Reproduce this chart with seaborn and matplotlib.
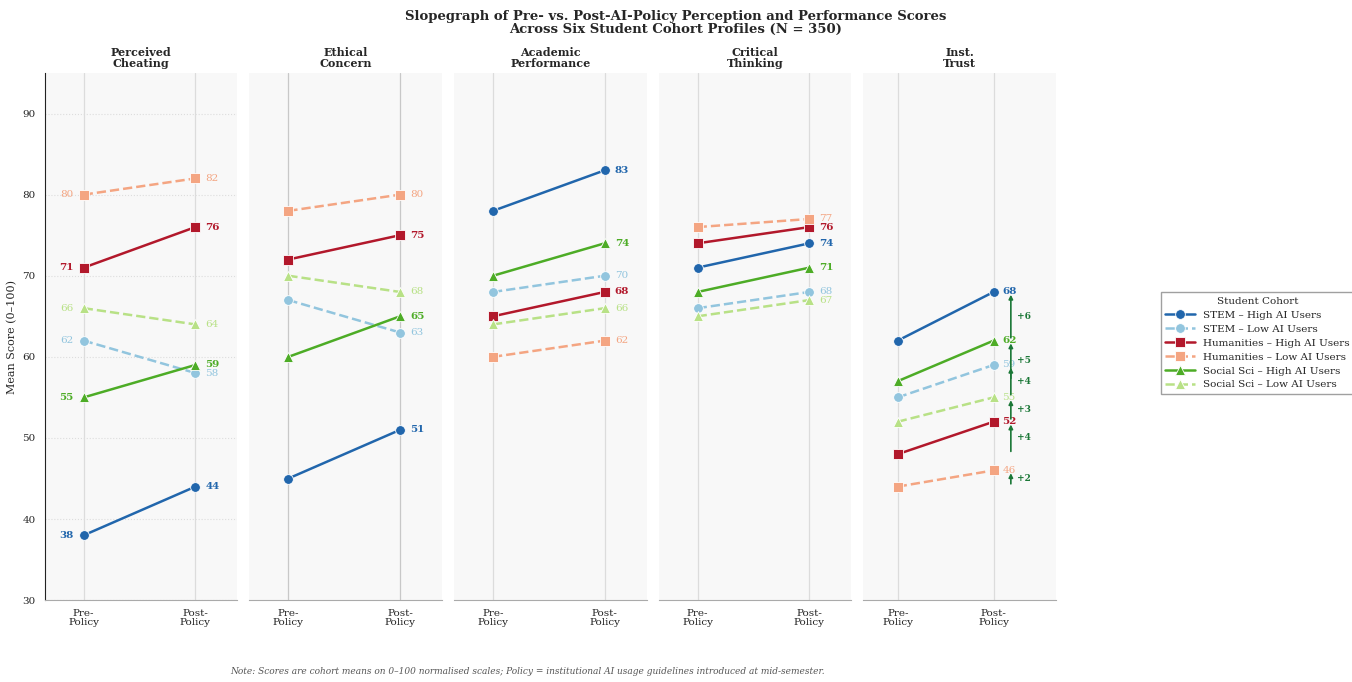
import numpy as np
import pandas as pd
import matplotlib
matplotlib.use("Agg")
import matplotlib.pyplot as plt
import seaborn as sns

# data
metrics = ["Perceived\nCheating", "Ethical\nConcern", "Academic\nPerformance",
           "Critical\nThinking", "Inst.\nTrust"]
cohorts = ["STEM – High AI Users", "STEM – Low AI Users",
           "Humanities – High AI Users", "Humanities – Low AI Users",
           "Social Sci – High AI Users", "Social Sci – Low AI Users"]
phases = ["Pre-\nPolicy", "Post-\nPolicy"]

pre_scores = {
    "STEM – High AI Users":       [38, 45, 78, 71, 62],
    "STEM – Low AI Users":        [62, 67, 68, 66, 55],
    "Humanities – High AI Users": [71, 72, 65, 74, 48],
    "Humanities – Low AI Users":  [80, 78, 60, 76, 44],
    "Social Sci – High AI Users": [55, 60, 70, 68, 57],
    "Social Sci – Low AI Users":  [66, 70, 64, 65, 52],
}
post_scores = {
    "STEM – High AI Users":       [44, 51, 83, 74, 68],
    "STEM – Low AI Users":        [58, 63, 70, 68, 59],
    "Humanities – High AI Users": [76, 75, 68, 76, 52],
    "Humanities – Low AI Users":  [82, 80, 62, 77, 46],
    "Social Sci – High AI Users": [59, 65, 74, 71, 62],
    "Social Sci – Low AI Users":  [64, 68, 66, 67, 55],
}

colors = ["#2166ac", "#92c5de", "#b2182b", "#f4a582", "#4dac26", "#b8e186"]
markers = ["o", "o", "s", "s", "^", "^"]
styles = ["-", "--", "-", "--", "-", "--"]

rows = []
for c in cohorts:
    for m_i, m in enumerate(metrics):
        rows.append({"cohort": c, "metric": m, "x": 0, "score": pre_scores[c][m_i]})
        rows.append({"cohort": c, "metric": m, "x": 1, "score": post_scores[c][m_i]})
df = pd.DataFrame(rows)

sns.set_style("white")
plt.rcParams["font.family"] = ["DejaVu Serif"]

fig, axes = plt.subplots(1, 5, figsize=(13.52, 6.82), dpi=100, sharey=True)
fig.subplots_adjust(left=0.033, right=0.781, top=0.893, bottom=0.12, wspace=0.062)

for i, (ax, m) in enumerate(zip(axes, metrics)):
    ax.set_facecolor("#f8f8f8")
    for xv in [0, 1]:
        ax.axvline(xv, color="#c8c8c8" if i == 1 else "#dcdcdc", lw=0.9, zorder=0)
    sub = df[df["metric"] == m]
    for k, c in enumerate(cohorts):
        d = sub[sub["cohort"] == c]
        sns.lineplot(data=d, x="x", y="score", ax=ax, color=colors[k],
                     marker=markers[k], linestyle=styles[k], lw=1.8,
                     markersize=7, markeredgecolor="white", markeredgewidth=0.6,
                     label=c if i == 0 else None, legend=False, zorder=3)
        bold = "bold" if k % 2 == 0 else "normal"
        ax.text(1.09, post_scores[c][i], str(post_scores[c][i]), color=colors[k],
                fontsize=7.5, fontweight=bold, va="center", ha="left")
        if i == 0:
            ax.text(-0.09, pre_scores[c][i], str(pre_scores[c][i]), color=colors[k],
                    fontsize=7.5, fontweight=bold, va="center", ha="right")
    if i == 4:
        ax.set_xlim(-0.36, 1.65)
    else:
        ax.set_xlim(-0.35, 1.375)
    ax.set_ylim(30, 95)
    ax.set_xticks([0, 1])
    ax.set_xticklabels(phases, fontsize=7.5, linespacing=0.95)
    ax.tick_params(axis="x", length=3, color="#999999")
    ax.set_xlabel("")
    ax.set_title(m, fontsize=8, fontweight="bold", linespacing=1.0, pad=4)
    for s in ["top", "right", "left"]:
        ax.spines[s].set_visible(False)
    ax.spines["bottom"].set_color("#aaaaaa")
    if i == 0:
        ax.spines["left"].set_visible(True)
        ax.spines["left"].set_color("#222222")
        ax.set_ylabel("Mean Score (0–100)", fontsize=8)
        ax.set_yticks([30, 40, 50, 60, 70, 80, 90])
        ax.tick_params(axis="y", labelsize=7.5, length=3)
        ax.yaxis.grid(True, linestyle=":", color="#dddddd", lw=0.8)
    else:
        ax.set_ylabel("")
        ax.tick_params(axis="y", left=False)

# change arrows in the last panel
ax = axes[-1]
for k, c in enumerate(cohorts):
    a, b = pre_scores[c][4], post_scores[c][4]
    ax.annotate("", xy=(1.18, b), xytext=(1.18, a),
                arrowprops=dict(arrowstyle="-|>", color="#1b7837", lw=1.2,
                                mutation_scale=6))
    ax.text(1.24, (a + b) / 2, f"+{b - a}", color="#1b7837", fontsize=6.5,
            fontweight="bold", va="center", ha="left")

handles, labels = axes[0].get_legend_handles_labels()
fig.legend(handles, labels, title="Student Cohort", loc="center left",
           bbox_to_anchor=(0.855, 0.497), fontsize=7.5, title_fontsize=7.5,
           frameon=True, fancybox=False, edgecolor="#888888",
           handlelength=2.8, borderpad=0.4, labelspacing=0.45)

fig.suptitle("Slopegraph of Pre- vs. Post-AI-Policy Perception and Performance Scores\n"
             "Across Six Student Cohort Profiles (N = 350)",
             fontsize=9.5, fontweight="bold", y=0.985, linespacing=1.0)
fig.text(0.39, 0.012, "Note: Scores are cohort means on 0–100 normalised scales; "
         "Policy = institutional AI usage guidelines introduced at mid-semester.",
         fontsize=6.5, style="italic", color="#555555", ha="center")

fig.savefig("out.png", dpi=100)
